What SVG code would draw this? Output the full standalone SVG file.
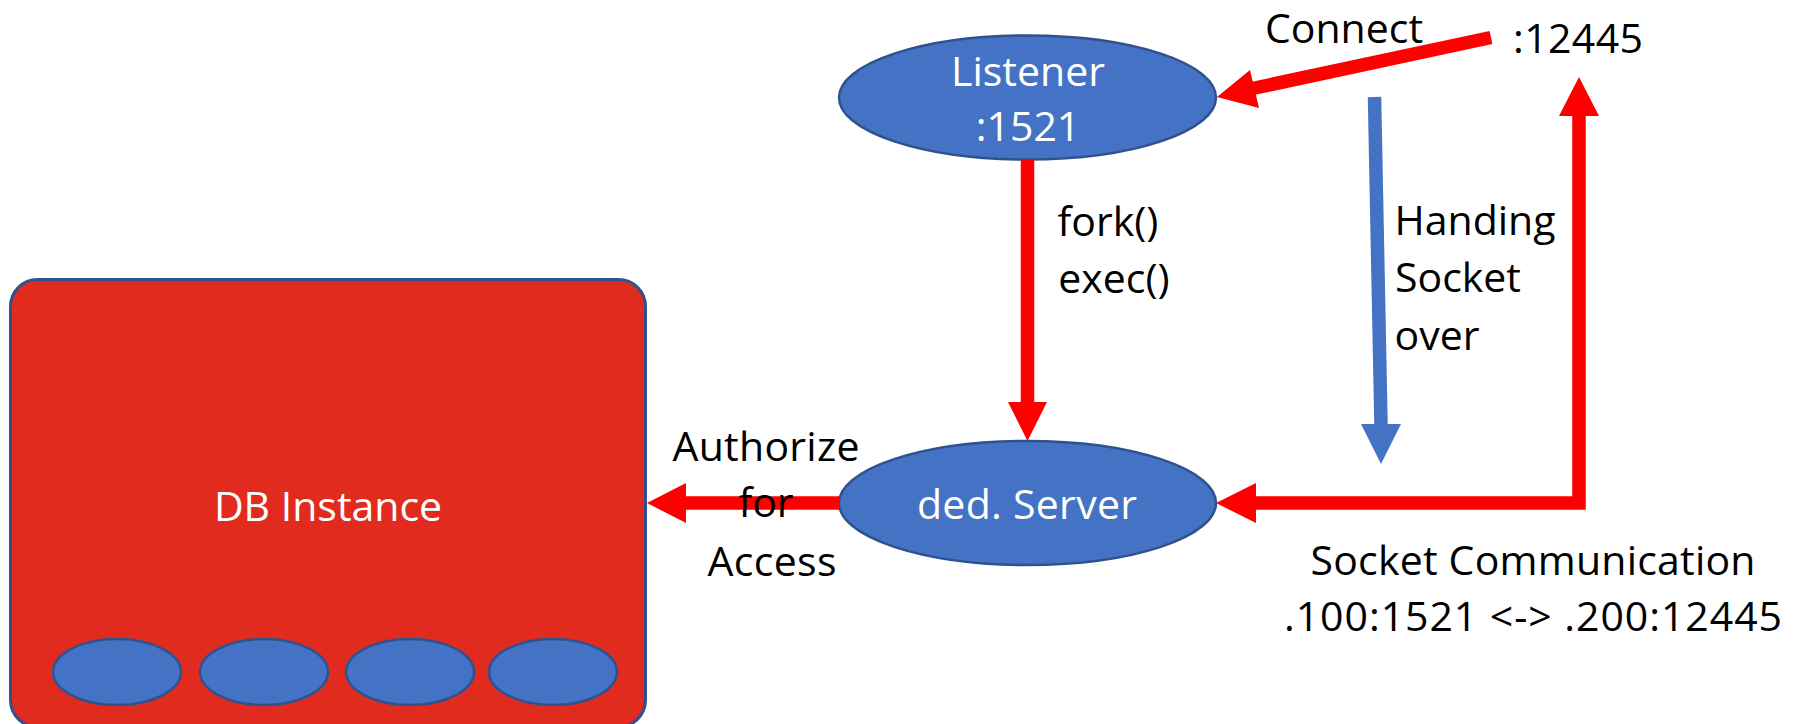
<svg xmlns="http://www.w3.org/2000/svg" width="1803" height="724" viewBox="0 0 1803 724">
<style>
.t{font-family:"Open Sans","Noto Sans","Liberation Sans",sans-serif;font-size:41px;fill:#000;text-anchor:middle}
.w{fill:#fff}
.e{fill:#4472c4;stroke:#2f528f;stroke-width:2.5}
.r{fill:none;stroke:#ff0000;stroke-width:13.5}
.h{fill:#ff0000}
</style>
<rect width="1803" height="724" fill="#fff"/>
<g id="db-instance">
<rect x="10.5" y="279.5" width="635" height="447.5" rx="27" fill="#e22b1f" stroke="#2f528f" stroke-width="3"/>
<text class="t w" x="328" y="521">DB Instance</text>
<ellipse class="e" cx="117" cy="672" rx="64" ry="33"/>
<ellipse class="e" cx="264" cy="672" rx="64" ry="33"/>
<ellipse class="e" cx="410" cy="672" rx="64" ry="33"/>
<ellipse class="e" cx="553" cy="672" rx="64" ry="33"/>
</g>
<g id="listener">
<ellipse class="e" cx="1027.5" cy="97.5" rx="188.5" ry="62"/>
<text class="t w" x="1028" y="86">Listener</text>
<text class="t w" x="1028" y="141">:1521</text>
</g>
<g id="ded-server">
<ellipse class="e" cx="1027.5" cy="503" rx="188.5" ry="62"/>
<text class="t w" x="1027" y="519" textLength="220">ded. Server</text>
</g>
<g id="connectors">
<path class="r" d="M1027.5 160V405"/>
<path class="h" d="M1008 402H1047L1027.5 441Z"/>
<path class="r" d="M1491 37.5L1250 89"/>
<path class="h" d="M1217 97L1250 70L1259 108Z"/>
<path d="M1374.5 97L1381 425" fill="none" stroke="#4472c4" stroke-width="13.5"/>
<path d="M1361 424H1401L1381 464Z" fill="#4472c4"/>
<path class="r" d="M1250 503H1579V112"/>
<path class="h" d="M1216 503L1256 483V523Z"/>
<path class="h" d="M1579 77L1599 116H1559Z"/>
<path class="r" d="M840 503H680"/>
<path class="h" d="M647 503L686 483V523Z"/>
</g>
<g id="labels">
<text class="t" x="1344" y="43">Connect</text>
<text class="t" x="1578" y="53" textLength="130">:12445</text>
<text class="t" x="1108" y="236">fork()</text>
<text class="t" x="1114" y="293">exec()</text>
<text class="t" x="1475" y="235">Handing</text>
<text class="t" x="1458" y="292">Socket</text>
<text class="t" x="1437" y="350">over</text>
<text class="t" x="766" y="461" textLength="187">Authorize</text>
<text class="t" x="766" y="517">for</text>
<text class="t" x="772" y="576" textLength="129">Access</text>
<text class="t" x="1533" y="575" textLength="445">Socket Communication</text>
<text class="t" x="1533" y="631" textLength="498">.100:1521 &lt;-&gt; .200:12445</text>
</g>
</svg>
